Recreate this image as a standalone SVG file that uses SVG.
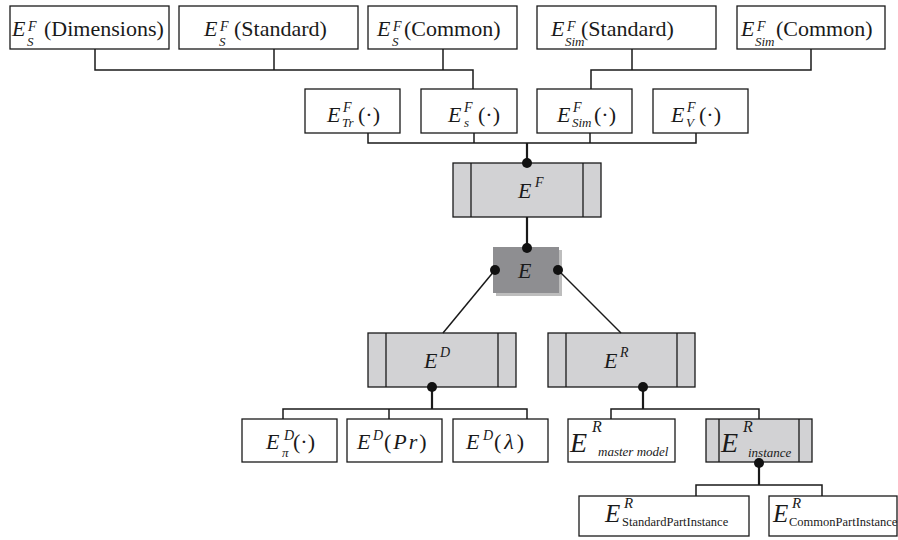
<svg xmlns="http://www.w3.org/2000/svg" width="898" height="540" viewBox="0 0 898 540">
  <style>
    .nd-box { fill: #ffffff; stroke: #1a1a1a; stroke-width: 1.3; }
    .nd-gbox { fill: #d2d2d4; stroke: #1a1a1a; stroke-width: 1.3; }
    .nd-dbox { fill: #8e8e91; stroke: none; }
    .nd-shadow { fill: #bdbdbd; stroke: none; }
    .nd-div { stroke: #1a1a1a; stroke-width: 1.3; fill: none; }
    .cn-wire { stroke: #1a1a1a; stroke-width: 1.5; fill: none; }
    .cn-thick { stroke: #1a1a1a; stroke-width: 2.2; fill: none; }
    .cn-dot { fill: #111111; }
    .tx { font-family: "Liberation Serif", "Times New Roman", serif; fill: #1a1a1a; }
    .tx-i { font-style: italic; }
    .tx-22 { font-size: 22px; }
    .tx-hi { font-size: 14px; font-style: italic; }
    .tx-lo { font-size: 13px; font-style: italic; }
  </style>

  <!-- top row: source sets -->
  <g id="n-s-dimensions">
    <rect class="nd-box" x="10" y="6" width="159" height="43"/>
    <text class="tx tx-22"><tspan class="tx-i" x="12" y="36">E</tspan><tspan class="tx-hi" x="28" y="31">F</tspan><tspan class="tx-lo" x="27" y="46">S</tspan><tspan x="44" y="36">(Dimensions)</tspan></text>
  </g>
  <g id="n-s-standard">
    <rect class="nd-box" x="179" y="6" width="179" height="43"/>
    <text class="tx tx-22"><tspan class="tx-i" x="204" y="36">E</tspan><tspan class="tx-hi" x="220" y="31">F</tspan><tspan class="tx-lo" x="219" y="46">S</tspan><tspan x="234" y="36">(Standard)</tspan></text>
  </g>
  <g id="n-s-common">
    <rect class="nd-box" x="368" y="6" width="149" height="43"/>
    <text class="tx tx-22"><tspan class="tx-i" x="377" y="36">E</tspan><tspan class="tx-hi" x="393" y="31">F</tspan><tspan class="tx-lo" x="392" y="46">S</tspan><tspan x="404" y="36">(Common)</tspan></text>
  </g>
  <g id="n-sim-standard">
    <rect class="nd-box" x="537" y="6" width="179" height="43"/>
    <text class="tx tx-22"><tspan class="tx-i" x="551" y="36">E</tspan><tspan class="tx-hi" x="567" y="31">F</tspan><tspan class="tx-lo" x="565" y="46">Sim</tspan><tspan x="581" y="36">(Standard)</tspan></text>
  </g>
  <g id="n-sim-common">
    <rect class="nd-box" x="737" y="6" width="148" height="43"/>
    <text class="tx tx-22"><tspan class="tx-i" x="741" y="36">E</tspan><tspan class="tx-hi" x="757" y="31">F</tspan><tspan class="tx-lo" x="755" y="46">Sim</tspan><tspan x="776" y="36">(Common)</tspan></text>
  </g>

  <!-- second row: functional sub-evaluations -->
  <g id="n-tr">
    <rect class="nd-box" x="305" y="89" width="95" height="44"/>
    <text class="tx tx-22"><tspan class="tx-i" x="327" y="122">E</tspan><tspan class="tx-hi" x="343" y="112">F</tspan><tspan class="tx-lo" x="342" y="127">Tr</tspan><tspan x="358" y="122">(·)</tspan></text>
  </g>
  <g id="n-s">
    <rect class="nd-box" x="421" y="89" width="96" height="44"/>
    <text class="tx tx-22"><tspan class="tx-i" x="448" y="122">E</tspan><tspan class="tx-hi" x="464" y="112">F</tspan><tspan class="tx-lo" x="464" y="127">s</tspan><tspan x="478" y="122">(·)</tspan></text>
  </g>
  <g id="n-sim">
    <rect class="nd-box" x="537" y="89" width="95" height="44"/>
    <text class="tx tx-22"><tspan class="tx-i" x="557" y="122">E</tspan><tspan class="tx-hi" x="573" y="112">F</tspan><tspan class="tx-lo" x="572" y="127">Sim</tspan><tspan x="594" y="122">(·)</tspan></text>
  </g>
  <g id="n-v">
    <rect class="nd-box" x="653" y="89" width="95" height="44"/>
    <text class="tx tx-22"><tspan class="tx-i" x="671" y="122">E</tspan><tspan class="tx-hi" x="687" y="112">F</tspan><tspan class="tx-lo" x="686" y="127">V</tspan><tspan x="699" y="122">(·)</tspan></text>
  </g>

  <!-- E^F -->
  <g id="n-ef">
    <rect class="nd-gbox" x="453" y="163" width="148" height="54"/>
    <line class="nd-div" x1="471" y1="163" x2="471" y2="217"/>
    <line class="nd-div" x1="583" y1="163" x2="583" y2="217"/>
    <text class="tx tx-22"><tspan class="tx-i" x="518" y="198">E</tspan><tspan class="tx-hi" x="535" y="187">F</tspan></text>
  </g>

  <!-- E -->
  <g id="n-e">
    <rect class="nd-shadow" x="496" y="250" width="66" height="46"/>
    <rect class="nd-dbox" x="493" y="247" width="66" height="46"/>
    <text class="tx tx-22 tx-i" x="518" y="278">E</text>
  </g>

  <!-- E^D and E^R -->
  <g id="n-ed">
    <rect class="nd-gbox" x="368" y="333" width="148" height="54"/>
    <line class="nd-div" x1="386" y1="333" x2="386" y2="387"/>
    <line class="nd-div" x1="498" y1="333" x2="498" y2="387"/>
    <text class="tx tx-22"><tspan class="tx-i" x="424" y="368">E</tspan><tspan class="tx-hi" x="440" y="357">D</tspan></text>
  </g>
  <g id="n-er">
    <rect class="nd-gbox" x="548" y="333" width="147" height="54"/>
    <line class="nd-div" x1="566" y1="333" x2="566" y2="387"/>
    <line class="nd-div" x1="677" y1="333" x2="677" y2="387"/>
    <text class="tx tx-22"><tspan class="tx-i" x="604" y="368">E</tspan><tspan class="tx-hi" x="620" y="357">R</tspan></text>
  </g>

  <!-- children of E^D -->
  <g id="n-ed-pi">
    <rect class="nd-box" x="242" y="419" width="95" height="43"/>
    <text class="tx tx-22"><tspan class="tx-i" x="266" y="449">E</tspan><tspan class="tx-hi" x="284" y="440">D</tspan><tspan class="tx-lo" x="282" y="457" font-size="11">π</tspan><tspan x="293" y="449">(·)</tspan></text>
  </g>
  <g id="n-ed-pr">
    <rect class="nd-box" x="347" y="419" width="95" height="43"/>
    <text class="tx tx-22"><tspan class="tx-i" x="357" y="449">E</tspan><tspan class="tx-hi" x="373" y="440">D</tspan><tspan x="384" y="449" letter-spacing="2">(<tspan class="tx-i">Pr</tspan>)</tspan></text>
  </g>
  <g id="n-ed-lambda">
    <rect class="nd-box" x="453" y="419" width="95" height="43"/>
    <text class="tx tx-22"><tspan class="tx-i" x="466" y="449">E</tspan><tspan class="tx-hi" x="483" y="440">D</tspan><tspan x="494" y="449" letter-spacing="3">(<tspan class="tx-i">λ</tspan>)</tspan></text>
  </g>

  <!-- children of E^R -->
  <g id="n-er-master">
    <rect class="nd-box" x="568" y="419" width="107" height="43"/>
    <text class="tx"><tspan class="tx-i" x="570" y="452" font-size="28">E</tspan><tspan class="tx-i" x="592" y="432" font-size="16">R</tspan><tspan class="tx-i" x="598" y="456" font-size="13">master model</tspan></text>
  </g>
  <g id="n-er-instance">
    <rect class="nd-gbox" x="706" y="419" width="106" height="43"/>
    <line class="nd-div" x1="719" y1="419" x2="719" y2="462"/>
    <line class="nd-div" x1="799" y1="419" x2="799" y2="462"/>
    <text class="tx"><tspan class="tx-i" x="721" y="452" font-size="28">E</tspan><tspan class="tx-i" x="743" y="432" font-size="16">R</tspan><tspan class="tx-i" x="748" y="457" font-size="13">instance</tspan></text>
  </g>

  <!-- children of E^R_instance -->
  <g id="n-standard-part-instance">
    <rect class="nd-box" x="579" y="496" width="170" height="40"/>
    <text class="tx"><tspan class="tx-i" x="605" y="522" font-size="25">E</tspan><tspan class="tx-i" x="624" y="508" font-size="15">R</tspan><tspan x="622" y="526" font-size="12.5">StandardPartInstance</tspan></text>
  </g>
  <g id="n-common-part-instance">
    <rect class="nd-box" x="769" y="496" width="128" height="40"/>
    <text class="tx"><tspan class="tx-i" x="773" y="522" font-size="25">E</tspan><tspan class="tx-i" x="792" y="508" font-size="15">R</tspan><tspan x="789" y="526" font-size="12.5">CommonPartInstance</tspan></text>
  </g>

  <!-- connectors -->
  <g id="connectors">
    <polyline class="cn-wire" points="95,49 95,70 473,70 473,89"/>
    <line class="cn-wire" x1="274" y1="49" x2="274" y2="70"/>
    <line class="cn-wire" x1="443" y1="49" x2="443" y2="70"/>
    <polyline class="cn-wire" points="811,49 811,70 591,70 591,89"/>
    <line class="cn-wire" x1="632" y1="49" x2="632" y2="70"/>

    <polyline class="cn-wire" points="368,133 368,143 696,143 696,133"/>
    <line class="cn-wire" x1="474" y1="133" x2="474" y2="143"/>
    <line class="cn-wire" x1="590" y1="133" x2="590" y2="143"/>
    <line class="cn-thick" x1="527" y1="143" x2="527" y2="163"/>
    <circle class="cn-dot" cx="527" cy="163" r="5"/>

    <line class="cn-thick" x1="527" y1="217" x2="527" y2="247"/>
    <circle class="cn-dot" cx="527" cy="248" r="5"/>

    <line class="cn-wire" x1="495" y1="270" x2="443" y2="333"/>
    <line class="cn-wire" x1="558" y1="270" x2="621" y2="333"/>
    <circle class="cn-dot" cx="495" cy="270" r="5"/>
    <circle class="cn-dot" cx="558" cy="270" r="5"/>

    <line class="cn-thick" x1="432" y1="387" x2="432" y2="409"/>
    <polyline class="cn-wire" points="283,419 283,409 527,409 527,419"/>
    <line class="cn-wire" x1="389" y1="409" x2="389" y2="419"/>
    <circle class="cn-dot" cx="432" cy="387" r="5"/>

    <line class="cn-thick" x1="643" y1="387" x2="643" y2="409"/>
    <polyline class="cn-wire" points="611,419 611,409 759,409 759,419"/>
    <circle class="cn-dot" cx="643" cy="387" r="5"/>

    <line class="cn-thick" x1="759" y1="463" x2="759" y2="485"/>
    <polyline class="cn-wire" points="696,496 696,485 822,485 822,496"/>
    <circle class="cn-dot" cx="759" cy="463" r="5"/>
  </g>
</svg>
